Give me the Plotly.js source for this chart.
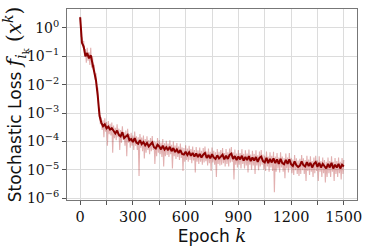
<!DOCTYPE html>
<html><head><meta charset="utf-8">
<script src="https://cdn.plot.ly/plotly-3.0.1.min.js"></script>
<style>html,body{margin:0;padding:0;background:#fff}#chart{width:366px;height:246px}</style>
</head><body><div id="chart"></div>
<script>
// smoothed (dark) curve, every 10 epochs
const epochs = [0,10,20,30,40,50,60,70,80,90,100,110,120,130,140,150,160,170,180,190,200,210,220,230,240,250,260,270,280,290,300,310,320,330,340,350,360,370,380,390,400,410,420,430,440,450,460,470,480,490,500,510,520,530,540,550,560,570,580,590,600,610,620,630,640,650,660,670,680,690,700,710,720,730,740,750,760,770,780,790,800,810,820,830,840,850,860,870,880,890,900,910,920,930,940,950,960,970,980,990,1000,1010,1020,1030,1040,1050,1060,1070,1080,1090,1100,1110,1120,1130,1140,1150,1160,1170,1180,1190,1200,1210,1220,1230,1240,1250,1260,1270,1280,1290,1300,1310,1320,1330,1340,1350,1360,1370,1380,1390,1400,1410,1420,1430,1440,1450,1460,1470,1480,1490,1500];

const meanLoss = [2.4,0.3,0.22,0.1,0.13,0.085,0.11,0.06,0.03,0.014,0.004,8e-4,4.6e-4,3.4e-4,4.0e-4,2.9e-4,3.3e-4,2.6e-4,2.9e-4,2.2e-4,
1.9e-4,2.4e-4,1.7e-4,1.5e-4,2.1e-4,1.3e-4,1.45e-4,1.7e-4,1.1e-4,1.2e-4,0.95e-4,1.3e-4,9e-5,8.2e-5,1.1e-4,8e-5,9.5e-5,7.2e-5,8.8e-5,6.6e-5,
7.8e-5,9.2e-5,6.2e-5,5.6e-5,7.6e-5,6.6e-5,5.2e-5,7e-5,5.1e-5,6.2e-5,4.9e-5,6.4e-5,4.5e-5,5.8e-5,4.2e-5,5.2e-5,3.9e-5,4.9e-5,3.6e-5,3.4e-5,
4.3e-5,3.3e-5,4.1e-5,3.1e-5,3.9e-5,2.9e-5,3.7e-5,2.8e-5,3.6e-5,2.7e-5,3.4e-5,3.9e-5,2.6e-5,3.3e-5,2.5e-5,3.5e-5,2.7e-5,2.4e-5,3.2e-5,2.5e-5,
2.9e-5,3.4e-5,2.3e-5,3.1e-5,2.4e-5,3.3e-5,3.7e-5,2.4e-5,3.0e-5,2.2e-5,2.9e-5,2.3e-5,3.1e-5,2.1e-5,2.8e-5,2.2e-5,3.0e-5,2.0e-5,2.7e-5,2.1e-5,
2.8e-5,1.9e-5,2.6e-5,2.9e-5,2.0e-5,1.8e-5,2.6e-5,1.7e-5,2.4e-5,1.8e-5,2.5e-5,1.7e-5,2.3e-5,1.6e-5,2.4e-5,1.7e-5,1.55e-5,2.2e-5,1.6e-5,2.3e-5,
1.55e-5,1.35e-5,1.95e-5,1.45e-5,1.25e-5,1.4e-5,1.95e-5,1.45e-5,1.3e-5,1.85e-5,1.35e-5,1.75e-5,1.2e-5,1.6e-5,1.85e-5,1.25e-5,1.75e-5,1.2e-5,1.6e-5,1.3e-5,
1.1e-5,1.6e-5,1.2e-5,1.75e-5,1.1e-5,1.5e-5,1.2e-5,1.6e-5,1.1e-5,1.5e-5,1.3e-5];

// raw per-sample (light) curve, every 5 epochs
const rawEpochs = [0,5,10,15,20,25,30,35,40,45,50,55,60,65,70,75,80,85,90,95,100,105,110,115,120,125,130,135,140,145,150,155,160,165,170,175,180,185,190,195,
200,205,210,215,220,225,230,235,240,245,250,255,260,265,270,275,280,285,290,295,300,305,310,315,320,325,330,335,340,345,350,355,360,365,370,375,380,385,390,395,
400,405,410,415,420,425,430,435,440,445,450,455,460,465,470,475,480,485,490,495,500,505,510,515,520,525,530,535,540,545,550,555,560,565,570,575,580,585,590,595,
600,605,610,615,620,625,630,635,640,645,650,655,660,665,670,675,680,685,690,695,700,705,710,715,720,725,730,735,740,745,750,755,760,765,770,775,780,785,790,795,
800,805,810,815,820,825,830,835,840,845,850,855,860,865,870,875,880,885,890,895,900,905,910,915,920,925,930,935,940,945,950,955,960,965,970,975,980,985,990,995,
1000,1005,1010,1015,1020,1025,1030,1035,1040,1045,1050,1055,1060,1065,1070,1075,1080,1085,1090,1095,1100,1105,1110,1115,1120,1125,1130,1135,1140,1145,1150,1155,1160,1165,1170,1175,1180,1185,1190,1195,
1200,1205,1210,1215,1220,1225,1230,1235,1240,1245,1250,1255,1260,1265,1270,1275,1280,1285,1290,1295,1300,1305,1310,1315,1320,1325,1330,1335,1340,1345,1350,1355,1360,1365,1370,1375,1380,1385,1390,1395,
1400,1405,1410,1415,1420,1425,1430,1435,1440,1445,1450,1455,1460,1465,1470,1475,1480,1485,1490,1495,1500];

const rawLoss = [2.5,0.5,0.45,0.2,0.35,0.1,0.18,0.06,0.2,0.07,0.14,0.05,0.2,0.04,0.1,0.035,0.05,0.015,0.025,0.006,
0.008,0.0015,0.0015,4e-4,7e-4,2.5e-4,5.5e-4,1.4e-4,6.5e-4,2.2e-4,4.8e-4,7e-5,5.2e-4,1.8e-4,4.2e-4,1.6e-4,4.6e-4,4e-5,3.6e-4,1.3e-4,
3.0e-4,1.1e-4,4.0e-4,1.4e-4,2.8e-4,5e-5,2.5e-4,9e-5,3.4e-4,1.2e-4,2.1e-4,7e-5,2.4e-4,3e-5,2.8e-4,9e-5,1.8e-4,6e-5,2.0e-4,7e-5,
1.6e-4,5e-5,2.2e-4,7e-5,1.5e-4,5e-5,1.4e-4,6e-6,1.8e-4,6e-5,1.35e-4,4.5e-5,1.6e-4,2.5e-5,1.2e-4,4e-5,1.5e-4,5e-5,1.1e-4,3.5e-5,
1.3e-4,4.5e-5,1.55e-4,5e-5,1.05e-4,1.6e-5,9.5e-5,3e-5,1.3e-4,4e-5,1.1e-4,3.5e-5,9e-5,2.8e-5,1.2e-4,1.3e-5,8.5e-5,3e-5,1.05e-4,3.3e-5,
8.3e-5,2.8e-5,1.1e-4,3.5e-5,7.6e-5,1.1e-5,9.8e-5,3e-5,7.1e-5,2.4e-5,8.8e-5,2.8e-5,6.6e-5,2.2e-5,8.3e-5,2.6e-5,6.1e-5,9e-6,5.8e-5,1.9e-5,
7.3e-5,2.2e-5,5.6e-5,1.9e-5,7.0e-5,2.2e-5,5.3e-5,1.7e-5,6.6e-5,2.1e-5,4.9e-5,8e-6,6.3e-5,1.9e-5,4.8e-5,1.6e-5,6.1e-5,1.9e-5,4.6e-5,1.5e-5,
5.8e-5,1.8e-5,6.6e-5,2e-5,4.4e-5,1.4e-5,5.6e-5,1.7e-5,4.3e-5,9e-6,6.0e-5,1.8e-5,4.6e-5,1.5e-5,4.1e-5,5.5e-6,5.4e-5,1.6e-5,4.3e-5,1.4e-5,
4.9e-5,1.5e-5,5.8e-5,1.7e-5,3.9e-5,1.3e-5,5.3e-5,1.6e-5,4.1e-5,1.3e-5,5.6e-5,1.8e-5,6.3e-5,1.9e-5,4.1e-5,4.5e-6,5.1e-5,1.5e-5,3.7e-5,1.2e-5,
4.9e-5,1.5e-5,3.9e-5,1.1e-5,5.3e-5,1.6e-5,3.6e-5,1.1e-5,4.8e-5,1.4e-5,3.7e-5,8e-6,5.1e-5,1.5e-5,3.4e-5,1.0e-5,4.6e-5,1.4e-5,3.6e-5,7e-6,
4.8e-5,1.4e-5,3.2e-5,9.5e-6,4.4e-5,1.3e-5,4.9e-5,1.5e-5,3.4e-5,1.0e-5,3.1e-5,9e-6,4.4e-5,1.3e-5,2.9e-5,8.5e-6,4.1e-5,1.2e-5,3.1e-5,9e-6,
4.3e-5,1.6e-6,2.9e-5,8.5e-6,3.9e-5,1.1e-5,2.7e-5,8e-6,4.1e-5,1.2e-5,2.9e-5,8.5e-6,2.6e-5,5e-6,3.7e-5,1.1e-5,2.7e-5,8e-6,3.9e-5,1.1e-5,
2.6e-5,7.5e-6,2.3e-5,6.5e-6,3.3e-5,9.5e-6,2.5e-5,7e-6,2.1e-5,6e-6,2.4e-5,7e-6,3.3e-5,9.5e-6,2.5e-5,7e-6,2.2e-5,4e-6,3.1e-5,9e-6,
2.3e-5,6.5e-6,3.0e-5,8.5e-6,2.0e-5,5.5e-6,2.7e-5,7.5e-6,3.1e-5,9e-6,2.1e-5,4e-6,3.0e-5,8.5e-6,2.0e-5,5.5e-6,2.7e-5,7.5e-6,2.2e-5,3.5e-6,
1.9e-5,5.5e-6,2.7e-5,7.5e-6,2.0e-5,5.5e-6,3.0e-5,8.5e-6,1.9e-5,4e-6,2.6e-5,7e-6,2.0e-5,5.5e-6,2.7e-5,7.5e-6,1.9e-5,4.5e-6,2.6e-5,7e-6,
2.2e-5];

const xTickVals = [0,300,600,900,1200,1500];
const xTickText = ['0','300','600','900','1200','1500'];
const yTickVals = [1e-6,1e-5,1e-4,1e-3,1e-2,1e-1,1e0];
const yTickText = ['10<sup>\u22126</sup>','10<sup>\u22125</sup>','10<sup>\u22124</sup>','10<sup>\u22123</sup>','10<sup>\u22122</sup>','10<sup>\u22121</sup>','10<sup>0</sup>'];

const traces = [
  {x: rawEpochs, y: rawLoss, type:'scatter', mode:'lines', line:{color:'rgba(175,35,35,0.36)', width:1.1}, hoverinfo:'skip', showlegend:false},
  {x: epochs, y: meanLoss, type:'scatter', mode:'lines', line:{color:'#8b0000', width:2}, showlegend:false}
];

const MY = '<span style="font-family:DejaVu Serif;font-size:20px">';
const MX = '<span style="font-family:DejaVu Serif;font-size:18px">';
const layout = {
  width:366, height:246,
  margin:{l:67, r:9, t:9, b:46},
  paper_bgcolor:'#fff', plot_bgcolor:'#fff',
  xaxis:{
    range:[-75,1575], tickvals:xTickVals, ticktext:xTickText,
    ticks:'outside', ticklen:4, tickcolor:'#555',
    showgrid:true, gridcolor:'#dcdcdc', gridwidth:1,
    minor:{dtick:150, tick0:0, showgrid:true, gridcolor:'#dcdcdc', ticks:'outside', ticklen:4, tickcolor:'#555'},
    showline:true, linecolor:'#777', linewidth:1, mirror:true, zeroline:false,
    tickfont:{family:'DejaVu Serif', size:14.5, color:'#111'},
    title:{text:'Epoch ' + MX + '<i>k</i></span>', font:{family:'DejaVu Sans', size:17, color:'#111'}, standoff:5}
  },
  yaxis:{
    type:'log', range:[-6.07,0.67], tickvals:yTickVals, ticktext:yTickText,
    ticks:'outside', ticklen:4, tickcolor:'#555',
    showgrid:true, gridcolor:'#dcdcdc', gridwidth:1,
    showline:true, linecolor:'#777', linewidth:1, mirror:true, zeroline:false,
    tickfont:{family:'DejaVu Serif', size:14, color:'#111'},
    title:{text:'Stochastic Loss ' + MY + '<i>f</i><sub><i>i</i><sub>k</sub></sub> (<i>x</i><sup><i>k</i></sup>)</span>', font:{family:'DejaVu Sans', size:17, color:'#111'}, standoff:2}
  }
};
Plotly.newPlot('chart', traces, layout, {staticPlot:true, displayModeBar:false});
</script></body></html>
